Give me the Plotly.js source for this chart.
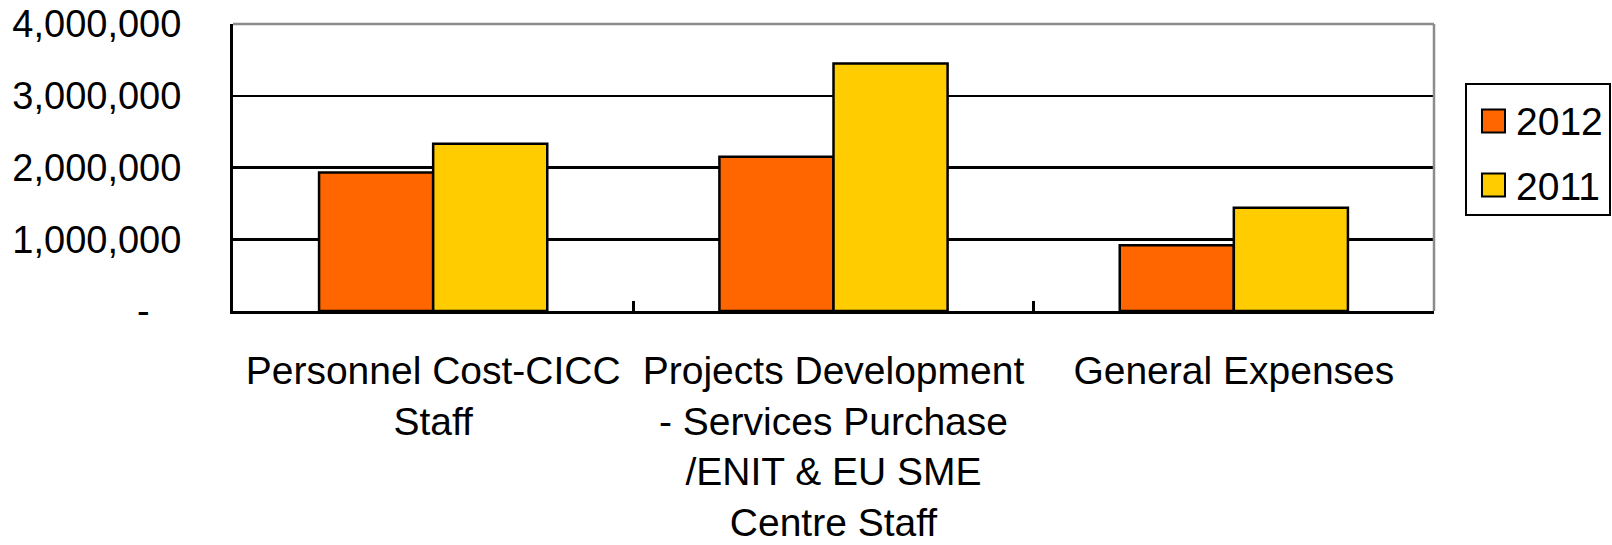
<!DOCTYPE html>
<html>
<head>
<meta charset="utf-8">
<script src="https://cdn.plot.ly/plotly-3.0.1.min.js"></script>
<style>html,body{margin:0;padding:0;background:#fff;}#chart{width:1612px;height:545px;}</style>
</head>
<body>
<div id="chart"></div>
<script>
const categories = [
  "Personnel Cost-CICC<br>Staff",
  "Projects Development<br>- Services Purchase<br>/ENIT & EU SME<br>Centre Staff",
  "General Expenses"
];
const seriesNames = ["2012", "2011"];
const values2012 = [1930000, 2150000, 915000];
const values2011 = [2330000, 3450000, 1440000];
const seriesColors = ["#FF6600", "#FFCC00"];
const yTickVals = [0, 1000000, 2000000, 3000000, 4000000];
const yTickText = ["-\u00a0\u00a0\u00a0", "1,000,000", "2,000,000", "3,000,000", "4,000,000"];

const FONT = "Liberation Sans, Arial, Helvetica, sans-serif";
const W = 1612, H = 545;
const M = {l: 233, r: 178, t: 24, b: 234};
const pw = W - M.l - M.r, ph = H - M.t - M.b;
const px = x => (x - M.l) / pw;
const py = y => (H - M.b - y) / ph;

const traces = [values2012, values2011].map((v, i) => ({
  type: "bar",
  name: seriesNames[i],
  x: categories,
  y: v,
  marker: {color: seriesColors[i], line: {color: "#000", width: 2.5}},
  hoverinfo: "x+y"
}));

const shapes = [
  {type: "line", xref: "paper", yref: "paper", x0: 0, x1: 1, y0: 1, y1: 1, line: {color: "#8c8c8c", width: 2.5}},
  {type: "line", xref: "paper", yref: "paper", x0: 1, x1: 1, y0: 0, y1: 1, line: {color: "#8c8c8c", width: 2.5}},
  {type: "rect", xref: "paper", yref: "paper", x0: px(1466), x1: px(1610), y0: py(84), y1: py(215), line: {color: "#000", width: 2}, fillcolor: "rgba(0,0,0,0)"}
];
const annotations = [];
seriesNames.forEach((n, i) => {
  const cy = 121 + i * 64;
  shapes.push({type: "rect", xref: "paper", yref: "paper", x0: px(1482), x1: px(1505), y0: py(cy - 11.5), y1: py(cy + 11.5), line: {color: "#000", width: 2}, fillcolor: seriesColors[i]});
  annotations.push({xref: "paper", yref: "paper", x: px(1514), y: py(cy + 1), xanchor: "left", yanchor: "middle", showarrow: false, text: n, font: {family: FONT, size: 39, color: "#000"}});
});

const layout = {
  width: W, height: H,
  margin: M,
  paper_bgcolor: "#fff", plot_bgcolor: "#fff",
  font: {family: FONT, size: 39, color: "#000"},
  showlegend: false,
  barmode: "group",
  bargap: 0.43,
  bargroupgap: 0,
  xaxis: {
    type: "category",
    showline: true, linecolor: "#000", linewidth: 3,
    showgrid: false,
    ticks: "inside", tickson: "boundaries", ticklen: 10, tickwidth: 2.5, tickcolor: "#000",
    tickfont: {family: FONT, size: 39, color: "#000"},
    ticklabelstandoff: 23,
    fixedrange: true
  },
  yaxis: {
    range: [0, 4000000],
    tickvals: yTickVals, ticktext: yTickText,
    showline: true, linecolor: "#000", linewidth: 3,
    showgrid: true, gridcolor: "#000", gridwidth: 2.5,
    zeroline: false,
    ticks: "inside", ticklen: 12, tickwidth: 2.5, tickcolor: "#000",
    tickfont: {family: FONT, size: 38, color: "#000"},
    ticklabelstandoff: 41,
    fixedrange: true
  },
  shapes: shapes,
  annotations: annotations
};

Plotly.newPlot("chart", traces, layout, {displayModeBar: false, staticPlot: true});
</script>
</body>
</html>
